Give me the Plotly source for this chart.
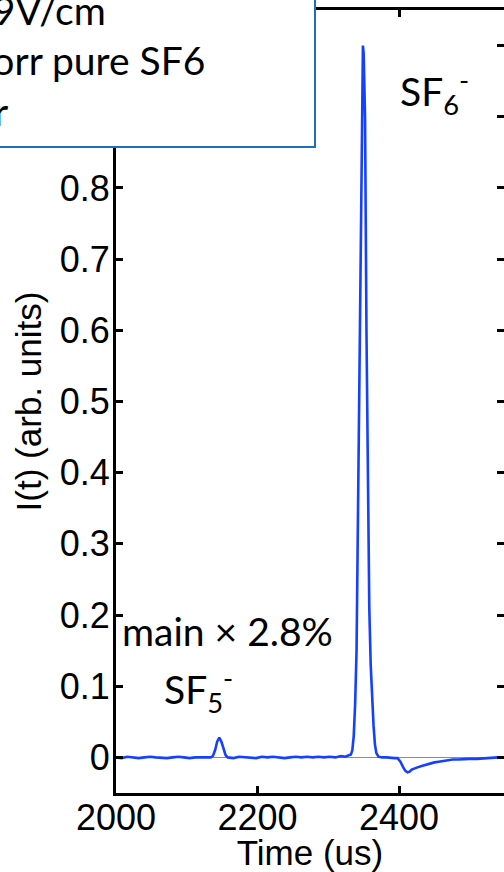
import plotly.graph_objects as go

# ---- data ----
time_us = [2000, 2008, 2016, 2024, 2032, 2040, 2048, 2056, 2064, 2072, 2080, 2088, 2096, 2104,
           2112, 2120, 2128, 2134, 2137, 2140, 2143, 2146, 2149, 2152, 2155, 2158, 2166, 2174,
           2182, 2190, 2198, 2206, 2214, 2222, 2230, 2238, 2246, 2254, 2262, 2270, 2278, 2286,
           2294, 2302, 2310, 2318, 2324, 2329, 2332, 2334, 2336, 2338, 2340, 2342, 2344, 2346,
           2348, 2349, 2350, 2352, 2354, 2356, 2358, 2360, 2362, 2364, 2366, 2368, 2371, 2376,
           2382, 2388, 2394, 2398, 2402, 2406, 2409, 2412, 2415, 2418, 2422, 2426, 2432, 2438,
           2444, 2450, 2456, 2462, 2468, 2476, 2484, 2492, 2500, 2510, 2520, 2530, 2540, 2548]
current = [0.000, -0.001, 0.001, 0.000, -0.001, 0.000, 0.001, 0.000, -0.001, -0.001, 0.000, 0.001,
           0.000, -0.001, 0.000, 0.000, -0.001, 0.000, 0.002, 0.010, 0.022, 0.028, 0.022, 0.011,
           0.003, 0.000, -0.001, 0.001, 0.000, 0.000, -0.001, 0.001, 0.000, 0.001, 0.000, -0.001,
           0.000, 0.001, 0.000, 0.001, 0.000, 0.001, 0.000, 0.001, 0.000, 0.002, 0.001, 0.003,
           0.004, 0.010, 0.030, 0.075, 0.150, 0.340, 0.560, 0.780, 0.950, 1.000, 0.990, 0.900,
           0.600, 0.350, 0.210, 0.130, 0.080, 0.045, 0.018, 0.006, 0.001, 0.000, 0.000, -0.001,
           -0.001, -0.001, -0.006, -0.014, -0.019, -0.021, -0.020, -0.017, -0.015, -0.014, -0.012,
           -0.010, -0.009, -0.007, -0.006, -0.005, -0.004, -0.003, -0.003, -0.002, -0.002, -0.002,
           -0.001, -0.001, 0.000, 0.000]

x_ticks = [2000, 2200, 2400]
x_tick_labels = ["2000", "2200", "2400"]
y_ticks = [0, 0.1, 0.2, 0.3, 0.4, 0.5, 0.6, 0.7, 0.8, 0.9, 1.0]
y_tick_labels = ["0", "0.1", "0.2", "0.3", "0.4", "0.5", "0.6", "0.7", "0.8", "0.9", "1"]
x_range = [2000, 2548.4]
y_range = [-0.05, 1.05]

box_lines = ["Drift field 439V/cm", "20 Torr pure SF6", "No amplifier"]

TICK_FONT = dict(family="Liberation Sans, Arial, sans-serif", size=36, color="black")
TITLE_FONT = dict(family="Liberation Sans, Arial, sans-serif", size=35, color="black")
TXT_FONT = dict(family="Lato, Calibri, sans-serif", size=39, color="black")

fig = go.Figure()
fig.add_trace(go.Scatter(x=time_us, y=current, mode="lines",
                         line=dict(color="#1540FF", width=2.6), showlegend=False))
# empty trace so that the right-hand tick axis (ticks only, no line) is drawn
fig.add_trace(go.Scatter(x=[None], y=[None], yaxis="y2", mode="lines",
                         showlegend=False, hoverinfo="skip"))

tick_common = dict(showgrid=False, ticks="inside", ticklen=7, tickwidth=2.5, tickcolor="black")

fig.update_layout(
    width=504, height=872,
    margin=dict(l=116, r=0, t=10, b=79),
    paper_bgcolor="white", plot_bgcolor="white",
    xaxis=dict(range=x_range, tickvals=x_ticks, ticktext=x_tick_labels, tickfont=TICK_FONT,
               zeroline=False, ticklabelstandoff=-9, showline=True, linecolor="black",
               linewidth=3, mirror="ticks",
               title=dict(text="Time (us)", font=TITLE_FONT, standoff=0), **tick_common),
    yaxis=dict(range=y_range, tickvals=y_ticks, ticktext=y_tick_labels, tickfont=TICK_FONT,
               zeroline=True, zerolinecolor="#8c8c8c", zerolinewidth=1.2, ticklabelstandoff=-4,
               showline=True, linecolor="black", linewidth=3, mirror=False,
               title=dict(text="I(t) (arb. units)", font=TITLE_FONT, standoff=8), **tick_common),
    yaxis2=dict(range=y_range, tickvals=y_ticks, overlaying="y", side="right", anchor="x",
                showticklabels=False, showline=False, zeroline=False, **tick_common),
)

# info box (partially outside the figure, as in the reference)
fig.add_shape(type="rect", xref="paper", yref="paper", x0=-0.6, x1=0.5129, y0=0.825, y1=1.05,
              line=dict(color="#1f6fc0", width=2), fillcolor="white", layer="above")

box_right = [-0.0206, 0.235, -0.273]
box_y = [1.0, 0.936, 0.871]
for txt, xr, yc in zip(box_lines, box_right, box_y):
    fig.add_annotation(text=txt, xref="paper", yref="paper", x=xr, y=yc,
                       xanchor="right", yanchor="middle", showarrow=False, font=TXT_FONT)

fig.add_annotation(text="SF<sub>6</sub><sup>-</sup>", x=2398.6, y=0.935, xanchor="left",
                   yanchor="middle", showarrow=False, font=TXT_FONT)
fig.add_annotation(text="main × 2.8%", x=2158, y=0.178, xanchor="center",
                   yanchor="middle", showarrow=False, font=TXT_FONT)
fig.add_annotation(text="SF<sub>5</sub><sup>-</sup>", x=2065, y=0.095, xanchor="left",
                   yanchor="middle", showarrow=False, font=TXT_FONT)

fig.write_html("out.html")
